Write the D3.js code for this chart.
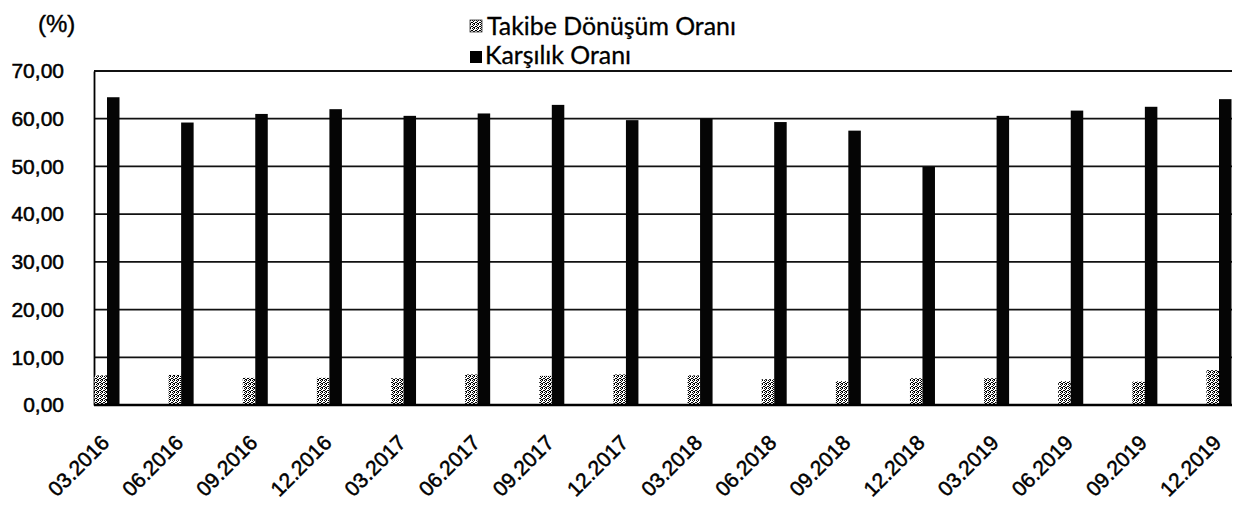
<!DOCTYPE html>
<html>
<head>
<meta charset="utf-8">
<script src="https://cdn.jsdelivr.net/npm/d3@7"></script>
<style>
  html, body { margin: 0; padding: 0; background: #ffffff; }
  svg { display: block; }
</style>
</head>
<body>
<svg id="chart" width="1248" height="509"></svg>
<script>
// ---- data ----
const categories = ["03.2016","06.2016","09.2016","12.2016","03.2017","06.2017","09.2017","12.2017",
                    "03.2018","06.2018","09.2018","12.2018","03.2019","06.2019","09.2019","12.2019"];
const takibeValues   = [6.2, 6.3, 5.7, 5.7, 5.6, 6.4, 6.1, 6.4, 6.2, 5.4, 5.0, 5.6, 5.6, 5.0, 4.9, 7.3];
const karsilikValues = [64.5, 59.2, 61.0, 62.0, 60.6, 61.1, 62.9, 59.7, 60.0, 59.3, 57.5, 49.9, 60.6, 61.7, 62.5, 64.1];
const seriesNames = ["Takibe Dönüşüm Oranı", "Karşılık Oranı"];
const yTicks = [0, 10, 20, 30, 40, 50, 60, 70];
const unitLabel = "(%)";

// ---- layout ----
const plot = { left: 94, right: 1232, top: 71, bottom: 405 };
const barW = 12.5;
const axisFont = "Liberation Sans, Arial, sans-serif";

const svg = d3.select("#chart");
svg.append("rect").attr("width", 1248).attr("height", 509).attr("fill", "#fff");

// dithered pattern for Takibe bars
const defs = svg.append("defs");
const pat = defs.append("pattern").attr("id", "dither")
  .attr("width", 4).attr("height", 4).attr("patternUnits", "userSpaceOnUse");
pat.append("rect").attr("width", 4).attr("height", 4).attr("fill", "#fff");
[[0,0],[2,0],[1,1],[0,2],[3,2],[2,3],[1,3]].forEach(([x,y]) =>
  pat.append("rect").attr("x", x).attr("y", y).attr("width", 1).attr("height", 1).attr("fill", "#000"));

const y = d3.scaleLinear().domain([0, 70]).range([plot.bottom, plot.top]);
const x = d3.scalePoint().domain(categories)
  .range([plot.left + 13, plot.right - 13]).padding(0);

const fmt = v => d3.format(".2f")(v).replace(".", ",");

// gridlines
svg.append("g").selectAll("line").data(yTicks.filter(t => t > 0)).join("line")
  .attr("x1", plot.left).attr("x2", plot.right)
  .attr("y1", d => y(d)).attr("y2", d => y(d))
  .attr("stroke", "#111").attr("stroke-width", d => d === 70 ? 2 : 1.7);

// y axis
const yAxis = svg.append("g").attr("transform", `translate(${plot.left},0)`)
  .call(d3.axisLeft(y).tickValues(yTicks).tickFormat(fmt).tickSize(0).tickPadding(30));
yAxis.select(".domain").attr("stroke", "#000").attr("stroke-width", 1.8);
yAxis.selectAll("text").attr("font-family", axisFont)
  .attr("font-size", 21).attr("fill", "#000")
  .attr("stroke", "#000").attr("stroke-width", 0.5);

// bars
const gBars = svg.append("g");
gBars.selectAll("rect.tk").data(categories).join("rect").attr("class", "tk")
  .attr("x", d => x(d) - barW)
  .attr("y", (d, i) => y(takibeValues[i]))
  .attr("width", barW)
  .attr("height", (d, i) => y(0) - y(takibeValues[i]))
  .attr("fill", "url(#dither)");
gBars.selectAll("rect.ks").data(categories).join("rect").attr("class", "ks")
  .attr("x", d => x(d))
  .attr("y", (d, i) => y(karsilikValues[i]))
  .attr("width", barW)
  .attr("height", (d, i) => y(0) - y(karsilikValues[i]))
  .attr("fill", "#050505");

// x axis
const xAxis = svg.append("g").attr("transform", `translate(0,${plot.bottom})`)
  .call(d3.axisBottom(x).tickSize(0).tickFormat(d => d));
xAxis.select(".domain").attr("d", `M${plot.left},0H${plot.right}`)
  .attr("stroke", "#000").attr("stroke-width", 2.4);
xAxis.selectAll(".tick text")
  .attr("font-family", axisFont)
  .attr("font-size", 21).attr("fill", "#000")
  .attr("stroke", "#000").attr("stroke-width", 0.5)
  .attr("text-anchor", "end")
  .attr("dy", null).attr("y", null)
  .attr("transform", "translate(3,39) rotate(-45)");

// unit label
svg.append("text").attr("x", 38).attr("y", 32).text(unitLabel)
  .attr("font-family", axisFont).attr("font-size", 24).attr("fill", "#000")
  .attr("stroke", "#000").attr("stroke-width", 0.4);

// legend
function fit(sel, w) {
  const cur = sel.node().getComputedTextLength();
  const fs = parseFloat(sel.attr("font-size"));
  return fs * w / cur;
}
const leg = svg.append("g");
leg.append("rect").attr("x", 470).attr("y", 20).attr("width", 12).attr("height", 12)
  .attr("fill", "url(#dither)").attr("stroke", "#333").attr("stroke-width", 0.8);
leg.append("rect").attr("x", 470).attr("y", 51).attr("width", 12).attr("height", 12).attr("fill", "#000");
const t1 = leg.append("text").attr("x", 487).attr("y", 35).text(seriesNames[0])
  .attr("font-family", "Lato, 'Open Sans', sans-serif").attr("font-size", 25).attr("fill", "#000")
  .attr("stroke", "#000").attr("stroke-width", 0.3);
const t2 = leg.append("text").attr("x", 485).attr("y", 64).text(seriesNames[1])
  .attr("font-family", "Lato, 'Open Sans', sans-serif").attr("font-size", 25).attr("fill", "#000")
  .attr("stroke", "#000").attr("stroke-width", 0.3);
const fs = fit(t1, 249);
t1.attr("font-size", fs);
t2.attr("font-size", fs);
</script>
</body>
</html>
